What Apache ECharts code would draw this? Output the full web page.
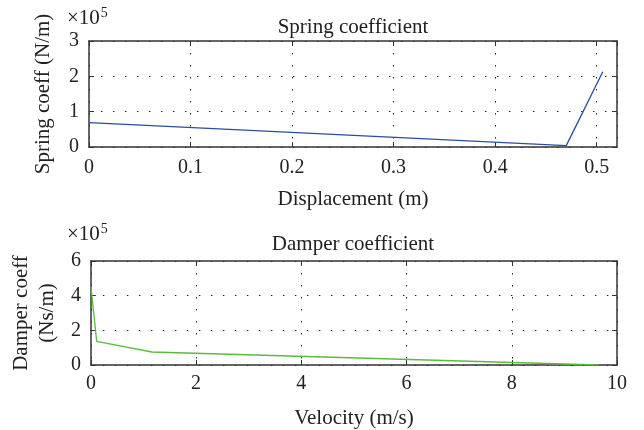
<!DOCTYPE html>
<html>
<head>
<meta charset="utf-8">
<script src="https://cdn.jsdelivr.net/npm/echarts@6/dist/echarts.min.js"></script>
<style>html,body{margin:0;padding:0;background:#fff}#c{width:644px;height:430px}</style>
</head>
<body>
<div id="c"></div>
<script>
// Spring coefficient (values in units of 1e5 N/m)
const springX = [0, 0.47, 0.506];
const springY = [0.69, 0.04, 2.13];
// Damper coefficient (values in units of 1e5 Ns/m)
const damperX = [0, 0.11, 1.16, 9.65];
const damperY = [4.55, 1.36, 0.75, 0];

const titles = ['Spring coefficient', 'Damper coefficient'];
const xNames = ['Displacement (m)', 'Velocity (m/s)'];
const yNames = ['Spring coeff (N/m)', 'Damper coeff\n(Ns/m)'];

const FONT = 'Liberation Serif';
const TXT = '#222';
const AX = '#333';

function zip(a, b) { return a.map((v, i) => [v, b[i]]); }

const grid = [
  { left: 89, top: 41, width: 528, height: 106 },
  { left: 89, top: 261, width: 528, height: 104 }
];

const gridLine = { show: true, lineStyle: { color: '#222', width: 1, type: [1.5, 10.5] } };

function mainX(gi, max, interval, name, margin, gap) {
  return {
    type: 'value', gridIndex: gi, position: 'bottom', min: 0, max: max, interval: interval,
    name: name, nameLocation: 'middle', nameGap: gap,
    nameTextStyle: { fontFamily: FONT, fontSize: 21, color: TXT },
    axisLine: { show: true, onZero: false, lineStyle: { color: AX, width: 1.5 } },
    axisTick: { show: true, inside: true, length: 5, lineStyle: { color: AX } },
    axisLabel: { fontFamily: FONT, fontSize: 20, color: TXT, margin: margin, showMaxLabel: max % interval === 0 ? true : false },
    splitLine: gridLine
  };
}
function mirrorX(gi, max, interval) {
  return {
    type: 'value', gridIndex: gi, position: 'top', min: 0, max: max, interval: interval,
    axisLine: { show: true, onZero: false, lineStyle: { color: AX, width: 1.5 } },
    axisTick: { show: true, inside: true, length: 5, lineStyle: { color: AX } },
    axisLabel: { show: false }, splitLine: { show: false }
  };
}
function mainY(gi, max, interval, name, gap, lh) {
  return {
    type: 'value', gridIndex: gi, position: 'left', min: 0, max: max, interval: interval,
    name: name, nameLocation: 'middle', nameGap: gap,
    nameTextStyle: { fontFamily: FONT, fontSize: 21, color: TXT, lineHeight: lh },
    axisLine: { show: true, onZero: false, lineStyle: { color: AX, width: 1.5 } },
    axisTick: { show: true, inside: true, length: 5, lineStyle: { color: AX } },
    axisLabel: { fontFamily: FONT, fontSize: 20, color: TXT, margin: 10 },
    splitLine: gridLine
  };
}
function mirrorY(gi, max, interval) {
  return {
    type: 'value', gridIndex: gi, position: 'right', min: 0, max: max, interval: interval,
    axisLine: { show: true, onZero: false, lineStyle: { color: AX, width: 1.5 } },
    axisTick: { show: true, inside: true, length: 5, lineStyle: { color: AX } },
    axisLabel: { show: false }, splitLine: { show: false }
  };
}

const titleStyle = { fontFamily: FONT, fontSize: 21, fontWeight: 'normal', color: TXT };
const expRich = { fontFamily: FONT, fontSize: 21, fontWeight: 'normal', color: TXT,
  rich: { s: { fontFamily: FONT, fontSize: 14, fontWeight: 'normal', color: TXT, verticalAlign: 'top', padding: [0, 0, 10, 1] } } };

const option = {
  animation: false,
  backgroundColor: '#fff',
  title: [
    { text: titles[0], left: 353, top: 17, textAlign: 'center', textStyle: titleStyle, padding: 0 },
    { text: titles[1], left: 353, top: 234, textAlign: 'center', textStyle: titleStyle, padding: 0 },
    { text: '×10{s|5}', left: 67, top: 6, textStyle: expRich, padding: 0 },
    { text: '×10{s|5}', left: 67, top: 222, textStyle: expRich, padding: 0 }
  ],
  grid: grid,
  xAxis: [
    mainX(0, 0.52, 0.1, xNames[0], 11, 42),
    mirrorX(0, 0.52, 0.1),
    mainX(1, 10, 2, xNames[1], 9, 43),
    mirrorX(1, 10, 2)
  ],
  yAxis: [
    mainY(0, 3, 1, yNames[0], 35, 22),
    mirrorY(0, 3, 1),
    mainY(1, 6, 2, yNames[1], 28, 26),
    mirrorY(1, 6, 2)
  ],
  series: [
    { type: 'line', xAxisIndex: 0, yAxisIndex: 0, data: zip(springX, springY), showSymbol: false, symbol: 'none',
      lineStyle: { color: '#2b4ba3', width: 1.3 } },
    { type: 'line', xAxisIndex: 2, yAxisIndex: 2, data: zip(damperX, damperY), showSymbol: false, symbol: 'none',
      lineStyle: { color: '#5cbb3c', width: 1.3 } }
  ]
};

const chart = echarts.init(document.getElementById('c'), null, { renderer: 'canvas' });
chart.setOption(option);
</script>
</body>
</html>
